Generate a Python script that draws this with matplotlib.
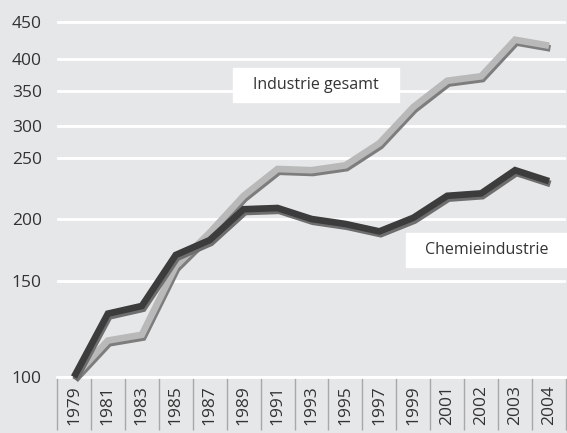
import matplotlib
matplotlib.use("Agg")
import matplotlib.pyplot as plt
import matplotlib.patheffects as pe
from matplotlib.patches import Rectangle
import numpy as np

# ---- data (index, 1979 = 100) ----
years = ["1979", "1981", "1983", "1985", "1987", "1989", "1991", "1993",
         "1995", "1997", "1999", "2001", "2002", "2003", "2004"]
industrie = [100, 119, 122, 162, 189, 219, 241, 240, 244, 273, 327, 366, 373, 426, 418]
chemie = [100, 133, 137, 171, 183, 208, 209, 200, 196, 190, 201, 219, 221, 240, 231]

y_ticks = [100, 150, 200, 250, 300, 350, 400, 450]
# the original axis is not evenly spaced: pixel height of each tick above the 100 line
tick_height = [0, 96, 158, 219, 251, 286, 318, 355]

BG = "#e6e7e8"
TXT = "#333333"
plt.rcParams["font.family"] = ["Open Sans", "DejaVu Sans"]

# extend mapping so values outside the ticks still work
vals_ext = [0] + y_ticks + [1000]
h_ext = [-192] + tick_height + [355 + 37 * 11]


def forward(v):
    return np.interp(v, vals_ext, h_ext)


def inverse(h):
    return np.interp(h, h_ext, vals_ext)


W, H = 567, 433
fig = plt.figure(figsize=(W / 100, H / 100), dpi=100, facecolor=BG)
ax = fig.add_axes([57 / W, 56 / H, 509 / W, 377 / H], facecolor=BG)
ax.set_yscale("function", functions=(forward, inverse))

x = np.arange(len(years))

ax.plot(x, industrie, color="#b9b9b9", lw=4.8, solid_joinstyle="miter",
        solid_capstyle="butt", clip_on=False, zorder=3,
        path_effects=[pe.SimpleLineShadow(offset=(1, -2), shadow_color="#7d7d7d", alpha=1),
                      pe.Normal()])
ax.plot(x, chemie, color="#3c3c3c", lw=4.8, solid_joinstyle="miter",
        solid_capstyle="butt", clip_on=False, zorder=4,
        path_effects=[pe.SimpleLineShadow(offset=(1, -2), shadow_color="#6e6e6e", alpha=1),
                      pe.Normal()])

ax.set_xlim(-0.5, len(years) - 0.5)
ax.set_ylim(100, inverse(377))

ax.set_yticks(y_ticks)
ax.set_yticklabels([str(t) for t in y_ticks])
ax.yaxis.grid(True, color="white", lw=2)
ax.set_axisbelow(True)

ax.set_xticks(x)
ax.set_xticklabels(years, rotation=90)
ax.set_xticks(np.arange(-0.5, len(years), 1), minor=True)
ax.tick_params(axis="x", which="major", length=0, pad=6, labelsize=12.5, labelcolor=TXT)
ax.tick_params(axis="x", which="minor", length=38, width=1, color="#a8a8a8", direction="out")
ax.tick_params(axis="y", which="both", length=0, pad=11, labelsize=12.5, labelcolor=TXT)

for s in ["top", "right", "left"]:
    ax.spines[s].set_visible(False)
ax.spines["bottom"].set_color("white")
ax.spines["bottom"].set_linewidth(2)

# label boxes
fig.add_artist(Rectangle((233 / W, 1 - 102 / H), 166 / W, 34 / H,
                         transform=fig.transFigure, color="white", zorder=5))
fig.text(316 / W, 1 - 85 / H, "Industrie gesamt", ha="center", va="center",
         fontsize=11.5, color=TXT, zorder=6)
fig.add_artist(Rectangle((406 / W, 1 - 267 / H), 161 / W, 34 / H,
                         transform=fig.transFigure, color="white", zorder=5))
fig.text(487 / W, 1 - 250 / H, "Chemieindustrie", ha="center", va="center",
         fontsize=11.5, color=TXT, zorder=6)

fig.savefig("out.png", dpi=100, facecolor=BG)
plt.close()
